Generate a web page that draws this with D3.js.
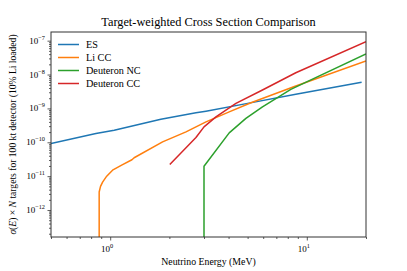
<!DOCTYPE html>
<html>
<head>
<meta charset="utf-8">
<script src="https://cdn.jsdelivr.net/npm/d3@7"></script>
<style>
  body { margin: 0; background: #fff; }
  text { font-family: "Liberation Serif", "DejaVu Serif", serif; fill: #000; }
</style>
</head>
<body>
<div id="chart"></div>
<script>
// energies (MeV) and target-weighted cross sections
const esE = [0.5, 0.846, 1.048, 1.81, 2.73, 3.07, 5.0, 8.79, 19.0];
const esV = [9.2e-11, 1.82e-10, 2.28e-10, 4.8e-10, 7.4e-10, 8.3e-10, 1.41e-9, 2.6e-9, 5.9e-9];

const liE = [0.879, 0.879, 0.893, 0.915, 0.96, 1.028, 1.15, 1.29, 1.324, 1.847, 2.43, 3.07, 4.03, 5.2, 8.79, 20];
const liV = [1e-14, 3.4e-12, 5.0e-12, 6.7e-12, 1.0e-11, 1.5e-11, 2.15e-11, 3.05e-11, 3.5e-11, 1.03e-10, 2.03e-10, 4.0e-10, 7.9e-10, 1.47e-9, 4.57e-9, 2.5e-8];

const dncE = [3.0, 3.0, 4.03, 4.9, 5.95, 8.29, 20];
const dncV = [1e-14, 1.96e-11, 1.9e-10, 5.06e-10, 1.11e-9, 3.65e-9, 4.05e-8];

const dccE = [2.01, 2.73, 3.0, 3.45, 4.36, 5.95, 8.79, 20];
const dccV = [2.2e-11, 1.39e-10, 2.86e-10, 5.6e-10, 1.41e-9, 3.5e-9, 1.13e-8, 9.3e-8];

const seriesNames = ['ES', 'Li CC', 'Deuteron NC', 'Deuteron CC'];
const seriesColors = ['#1f77b4', '#ff7f0e', '#2ca02c', '#d62728'];

const xDomain = [0.5, 20];
const yDomain = [Math.pow(10, -12.796), Math.pow(10, -6.744)];
const xTickVals = [1, 10];
const xTickExp = ['0', '1'];
const yTickVals = [1e-12, 1e-11, 1e-10, 1e-9, 1e-8, 1e-7];
const yTickExp = ['\u221212', '\u221211', '\u221210', '\u22129', '\u22128', '\u22127'];

const W = 407, H = 271;
const m = { left: 51, right: 41, top: 32, bottom: 34 };

const series = [
  { E: esE, V: esV },
  { E: liE, V: liV },
  { E: dncE, V: dncV },
  { E: dccE, V: dccV }
].map((s, i) => ({
  name: seriesNames[i],
  color: seriesColors[i],
  pts: s.E.map((e, j) => [e, s.V[j]])
}));

const x = d3.scaleLog().domain(xDomain).range([m.left, W - m.right]);
const y = d3.scaleLog().domain(yDomain).range([H - m.bottom, m.top]);

const svg = d3.select('#chart').append('svg')
  .attr('width', W)
  .attr('height', H)
  .style('display', 'block');

svg.append('clipPath').attr('id', 'clip')
  .append('rect')
  .attr('x', m.left).attr('y', m.top)
  .attr('width', W - m.left - m.right)
  .attr('height', H - m.top - m.bottom);

// lines
const line = d3.line().x(d => x(d[0])).y(d => y(d[1]));
svg.append('g').attr('clip-path', 'url(#clip)')
  .selectAll('path')
  .data(series)
  .enter().append('path')
  .attr('fill', 'none')
  .attr('stroke', d => d.color)
  .attr('stroke-width', 1.5)
  .attr('stroke-linejoin', 'round')
  .attr('d', d => line(d.pts));

// minor ticks
function minorTicks(domain) {
  const out = [];
  for (let k = Math.floor(Math.log10(domain[0])); k <= Math.ceil(Math.log10(domain[1])); k++) {
    for (let j = 2; j <= 9; j++) {
      const v = j * Math.pow(10, k);
      if (v >= domain[0] && v <= domain[1]) out.push(v);
    }
  }
  return out;
}

const axisColor = '#333';

// x axis
const xAxisMinor = d3.axisBottom(x).tickValues(minorTicks(xDomain)).tickSize(2).tickFormat('');
const xAxisMajor = d3.axisBottom(x).tickValues(xTickVals).tickSize(3.5).tickFormat('');
[xAxisMinor, xAxisMajor].forEach(ax => {
  const g = svg.append('g').attr('transform', `translate(0,${H - m.bottom})`).call(ax);
  g.select('.domain').remove();
  g.selectAll('line').attr('stroke', axisColor).attr('stroke-width', 0.8);
});

// y axis
const yAxisMinor = d3.axisLeft(y).tickValues(minorTicks(yDomain)).tickSize(2).tickFormat('');
const yAxisMajor = d3.axisLeft(y).tickValues(yTickVals).tickSize(3.5).tickFormat('');
[yAxisMinor, yAxisMajor].forEach(ax => {
  const g = svg.append('g').attr('transform', `translate(${m.left},0)`).call(ax);
  g.select('.domain').remove();
  g.selectAll('line').attr('stroke', axisColor).attr('stroke-width', 0.8);
});

// tick labels 10^k
xTickVals.forEach((v, i) => {
  const t = svg.append('text')
    .attr('x', x(v) - 3)
    .attr('y', H - m.bottom + 15)
    .attr('text-anchor', 'middle')
    .attr('font-size', 9);
  t.append('tspan').text('10');
  t.append('tspan').attr('dy', -4).attr('font-size', 6.3).text(xTickExp[i]);
});
yTickVals.forEach((v, i) => {
  const t = svg.append('text')
    .attr('x', m.left - 6)
    .attr('y', y(v) + 3)
    .attr('text-anchor', 'end')
    .attr('font-size', 9);
  t.append('tspan').text('10');
  t.append('tspan').attr('dy', -4).attr('font-size', 6.3).text(yTickExp[i]);
});

// frame
svg.append('rect')
  .attr('x', m.left).attr('y', m.top)
  .attr('width', W - m.left - m.right)
  .attr('height', H - m.top - m.bottom)
  .attr('fill', 'none')
  .attr('stroke', axisColor)
  .attr('stroke-width', 1);

// title and axis labels
svg.append('text')
  .attr('x', (m.left + W - m.right) / 2)
  .attr('y', m.top - 6)
  .attr('text-anchor', 'middle')
  .attr('font-size', 12.3)
  .text('Target-weighted Cross Section Comparison');

svg.append('text')
  .attr('x', (m.left + W - m.right) / 2)
  .attr('y', H - 6)
  .attr('text-anchor', 'middle')
  .attr('font-size', 9.8)
  .text('Neutrino Energy (MeV)');

const yl = svg.append('text')
  .attr('transform', `translate(16,${(m.top + H - m.bottom) / 2}) rotate(-90)`)
  .attr('text-anchor', 'middle')
  .attr('font-size', 9.6);
yl.append('tspan').attr('font-style', 'italic').text('\u03c3');
yl.append('tspan').text('(');
yl.append('tspan').attr('font-style', 'italic').text('E');
yl.append('tspan').text(') \u00d7 ');
yl.append('tspan').attr('font-style', 'italic').text('N');
yl.append('tspan').text(' targets for 100 kt detector (10% Li loaded)');

// legend
const leg = svg.append('g').attr('transform', `translate(${m.left + 7},${m.top + 12.5})`);
series.forEach((s, i) => {
  const row = leg.append('g').attr('transform', `translate(0,${i * 13})`);
  row.append('line')
    .attr('x1', 0).attr('x2', 21)
    .attr('stroke', s.color)
    .attr('stroke-width', 1.5);
  row.append('text')
    .attr('x', 28)
    .attr('y', 3.5)
    .attr('font-size', 10.2)
    .text(s.name);
});
</script>
</body>
</html>
